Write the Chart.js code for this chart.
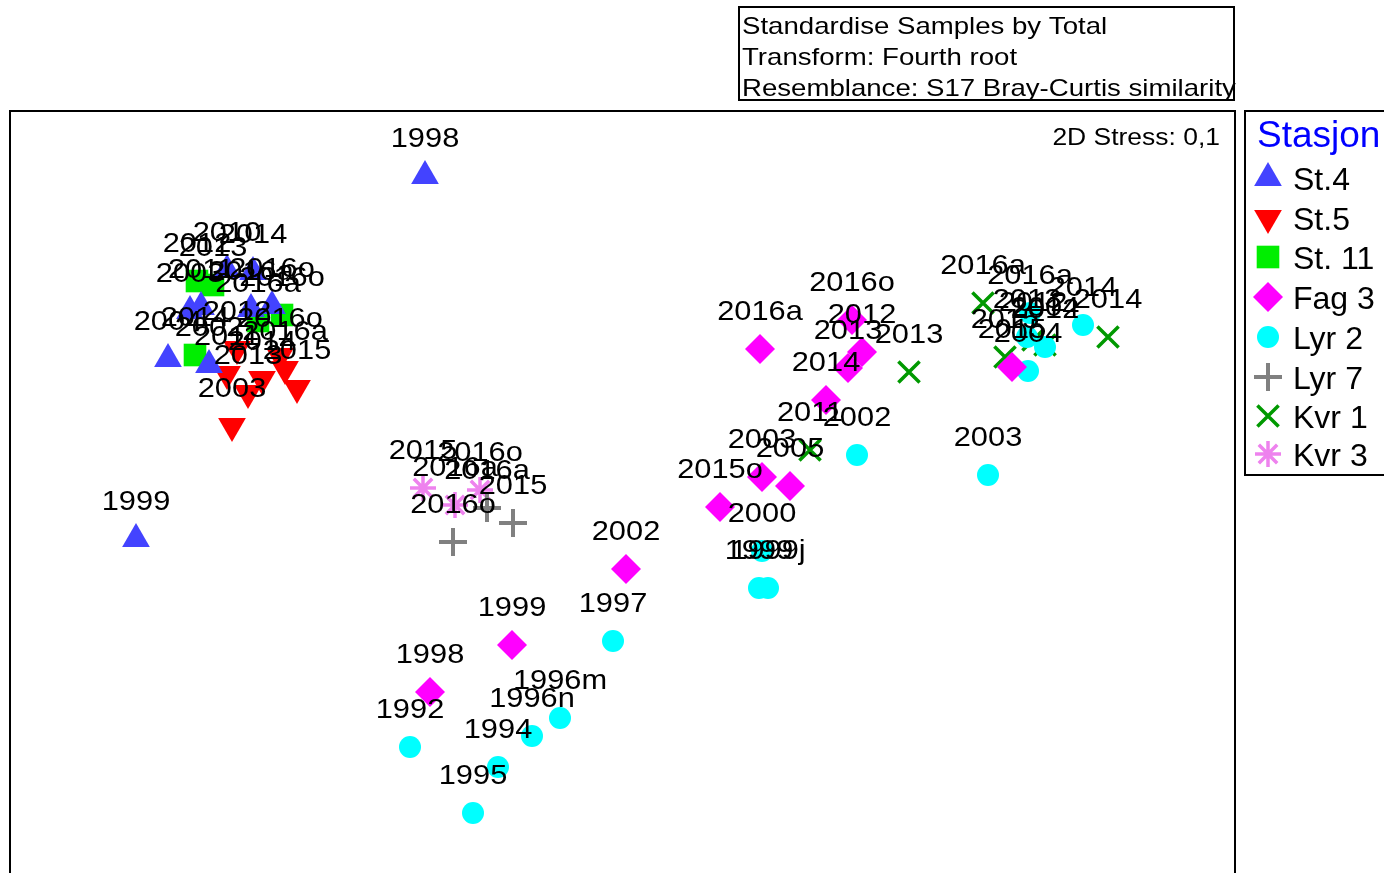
<!DOCTYPE html>
<html>
<head>
<meta charset="utf-8">
<title>MDS Stasjon</title>
<script src="https://cdn.jsdelivr.net/npm/chart.js@4.4.1/dist/chart.umd.min.js"></script>
<style>
  html, body { margin: 0; padding: 0; background: #fff; }
  canvas { display: block; }
</style>
</head>
<body>
<canvas id="mdsChart" width="1384" height="873"></canvas>
<script>
// nMDS ordination, axis units are arbitrary (dim1 across, dim2 up)
const st4Years = ['1998', '1999', '2004', '2002', '2003', '2011', '2010', '2014', '2016a', '2016o'];
const st4Dim1 = [415, 126, 158, 199, 180, 191, 217, 243, 241, 262];
const st4Dim2 = [697, 334, 514, 508, 562, 566, 603, 601, 564, 567];

const st5Years = ['2003', '2012', '2011', '2013', '2014', '2016o', '2016a', '2015'];
const st5Dim1 = [222, 227, 217, 238, 252, 270, 275, 287];
const st5Dim2 = [447, 524, 499, 480, 494, 517, 504, 485];

const st11Years = ['2012', '2013', '2016a', '2016o', '2014'];
const st11Dim1 = [187, 203, 248, 272, 185];
const st11Dim2 = [592, 588, 552, 558, 518];

const fag3Years = ['1998', '1999', '2002', '2015o', '2003', '2005', '2014', '2013', '2012', '2016o', '2016a', '2015'];
const fag3Dim1 = [420, 502, 616, 710, 752, 780, 816, 838, 852, 842, 750, 1002];
const fag3Dim2 = [181, 228, 304, 366, 396, 387, 473, 505, 521, 553, 524, 506];

const lyr2Years = ['1992', '1994', '1995', '1996n', '1996m', '1997', '1999', '1999j', '2000', '2002', '2003', '2014', '2004', '2016a', '2013', '2012'];
const lyr2Dim1 = [400, 488, 463, 522, 550, 603, 749, 758, 752, 847, 978, 1073, 1018, 1020, 1017, 1035];
const lyr2Dim2 = [126, 106, 60, 137, 155, 232, 285, 285, 322, 418, 398, 548, 502, 560, 536, 526];

const lyr7Years = ['2016o', '2015', '2016a'];
const lyr7Dim1 = [443, 503, 477];
const lyr7Dim2 = [331, 350, 365];

const kvr1Years = ['2011', '2013', '2016a', '2015', '2012', '2004', '2014'];
const kvr1Dim1 = [800, 899, 973, 995, 1023, 1035, 1098];
const kvr1Dim2 = [423, 501, 570, 516, 533, 528, 536];

const kvr3Years = ['2015', '2016a', '2016o'];
const kvr3Dim1 = [413, 445, 470];
const kvr3Dim2 = [385, 368, 383];

const headerLines = [
  'Standardise Samples by Total',
  'Transform: Fourth root',
  'Resemblance: S17 Bray-Curtis similarity'
];
const stressText = '2D Stress: 0,1';
const legendTitle = 'Stasjon';

function points(xs, ys) {
  return xs.map((x, i) => ({ x: x, y: ys[i] }));
}

function makeSet(name, xs, ys, years, style) {
  return {
    label: name,
    data: points(xs, ys),
    years: years,
    pointStyle: style.shape,
    pointRotation: style.rotation || 0,
    pointRadius: style.radius,
    pointHoverRadius: style.radius,
    pointBackgroundColor: style.color,
    pointBorderColor: style.color,
    pointBorderWidth: style.width || 0,
    showLine: false
  };
}

const datasets = [
  makeSet('St.4', st4Dim1, st4Dim2, st4Years, { shape: 'triangle', radius: 16, color: '#4343ff' }),
  makeSet('St.5', st5Dim1, st5Dim2, st5Years, { shape: 'triangle', rotation: 180, radius: 16, color: '#ff0000' }),
  makeSet('St. 11', st11Dim1, st11Dim2, st11Years, { shape: 'rect', radius: 16, color: '#00ee00' }),
  makeSet('Fag 3', fag3Dim1, fag3Dim2, fag3Years, { shape: 'rectRot', radius: 15, color: '#ff00ff' }),
  makeSet('Lyr 2', lyr2Dim1, lyr2Dim2, lyr2Years, { shape: 'circle', radius: 11, color: '#00ffff' }),
  makeSet('Lyr 7', lyr7Dim1, lyr7Dim2, lyr7Years, { shape: 'cross', radius: 14, color: '#808080', width: 4 }),
  makeSet('Kvr 1', kvr1Dim1, kvr1Dim2, kvr1Years, { shape: 'crossRot', radius: 15, color: '#009900', width: 3.5 }),
  makeSet('Kvr 3', kvr3Dim1, kvr3Dim2, kvr3Years, { shape: 'star', radius: 13, color: '#ee82ee', width: 3.5 })
];

const FONT = '"Liberation Sans", Arial, sans-serif';

// text in the source figure is a bit wider than plain Arial
function wideText(ctx, text, x, y, size, sx, align) {
  ctx.save();
  ctx.font = size + 'px ' + FONT;
  ctx.textAlign = align || 'left';
  ctx.translate(x, y);
  ctx.scale(sx, 1);
  ctx.fillText(text, 0, 0);
  ctx.restore();
}

const sampleLabels = {
  id: 'sampleLabels',
  afterDatasetsDraw(chart) {
    const ctx = chart.ctx;
    ctx.save();
    ctx.fillStyle = '#000';
    ctx.textBaseline = 'middle';
    chart.data.datasets.forEach((ds, i) => {
      const meta = chart.getDatasetMeta(i);
      meta.data.forEach((pt, j) => {
        wideText(ctx, ds.years[j], pt.x, pt.y - 37, 28, 1.1, 'center');
      });
    });
    ctx.restore();
  }
};

const frameAndLegend = {
  id: 'frameAndLegend',
  afterDraw(chart) {
    const ctx = chart.ctx;
    const area = chart.chartArea;
    ctx.save();
    ctx.strokeStyle = '#000';
    ctx.lineWidth = 2;

    // plot frame
    ctx.strokeRect(area.left, area.top, area.right - area.left, area.bottom - area.top + 20);

    // method box above the plot
    ctx.strokeRect(739, 7, 495, 93);
    ctx.fillStyle = '#000';
    ctx.textBaseline = 'alphabetic';
    headerLines.forEach((line, i) => {
      wideText(ctx, line, 742, 34 + i * 31, 24, 1.15, 'left');
    });

    wideText(ctx, stressText, area.right - 15, 145, 23, 1.15, 'right');

    // legend
    const lx = area.right + 10;
    ctx.strokeRect(lx, area.top, 200, 364);
    ctx.fillStyle = '#0000ff';
    ctx.font = '37px ' + FONT;
    ctx.textAlign = 'left';
    ctx.fillText(legendTitle, lx + 12, 147);

    const rows = [178, 218, 257, 297, 337, 377, 416, 454];
    chart.data.datasets.forEach((ds, i) => {
      const cy = rows[i];
      ctx.fillStyle = ds.pointBackgroundColor;
      ctx.strokeStyle = ds.pointBorderColor;
      ctx.lineWidth = ds.pointBorderWidth || 1;
      Chart.helpers.drawPoint(ctx, {
        pointStyle: ds.pointStyle,
        rotation: ds.pointRotation,
        radius: ds.pointRadius,
        borderWidth: ds.pointBorderWidth
      }, lx + 23, cy);
      ctx.fillStyle = '#000';
      ctx.font = '32px ' + FONT;
      ctx.fillText(ds.label, lx + 48, cy + 12);
    });
    ctx.restore();
  }
};

const ctx = document.getElementById('mdsChart').getContext('2d');
const mdsChart = new Chart(ctx, {
  type: 'scatter',
  data: { datasets: datasets },
  options: {
    responsive: false,
    animation: false,
    layout: {
      autoPadding: false,
      padding: { left: 10, right: 149, top: 111, bottom: 0 }
    },
    scales: {
      x: { display: false, min: 0, max: 1225 },
      y: { display: false, min: 0, max: 762 }
    },
    plugins: {
      legend: { display: false },
      tooltip: { enabled: false }
    }
  },
  plugins: [sampleLabels, frameAndLegend]
});
</script>
</body>
</html>
